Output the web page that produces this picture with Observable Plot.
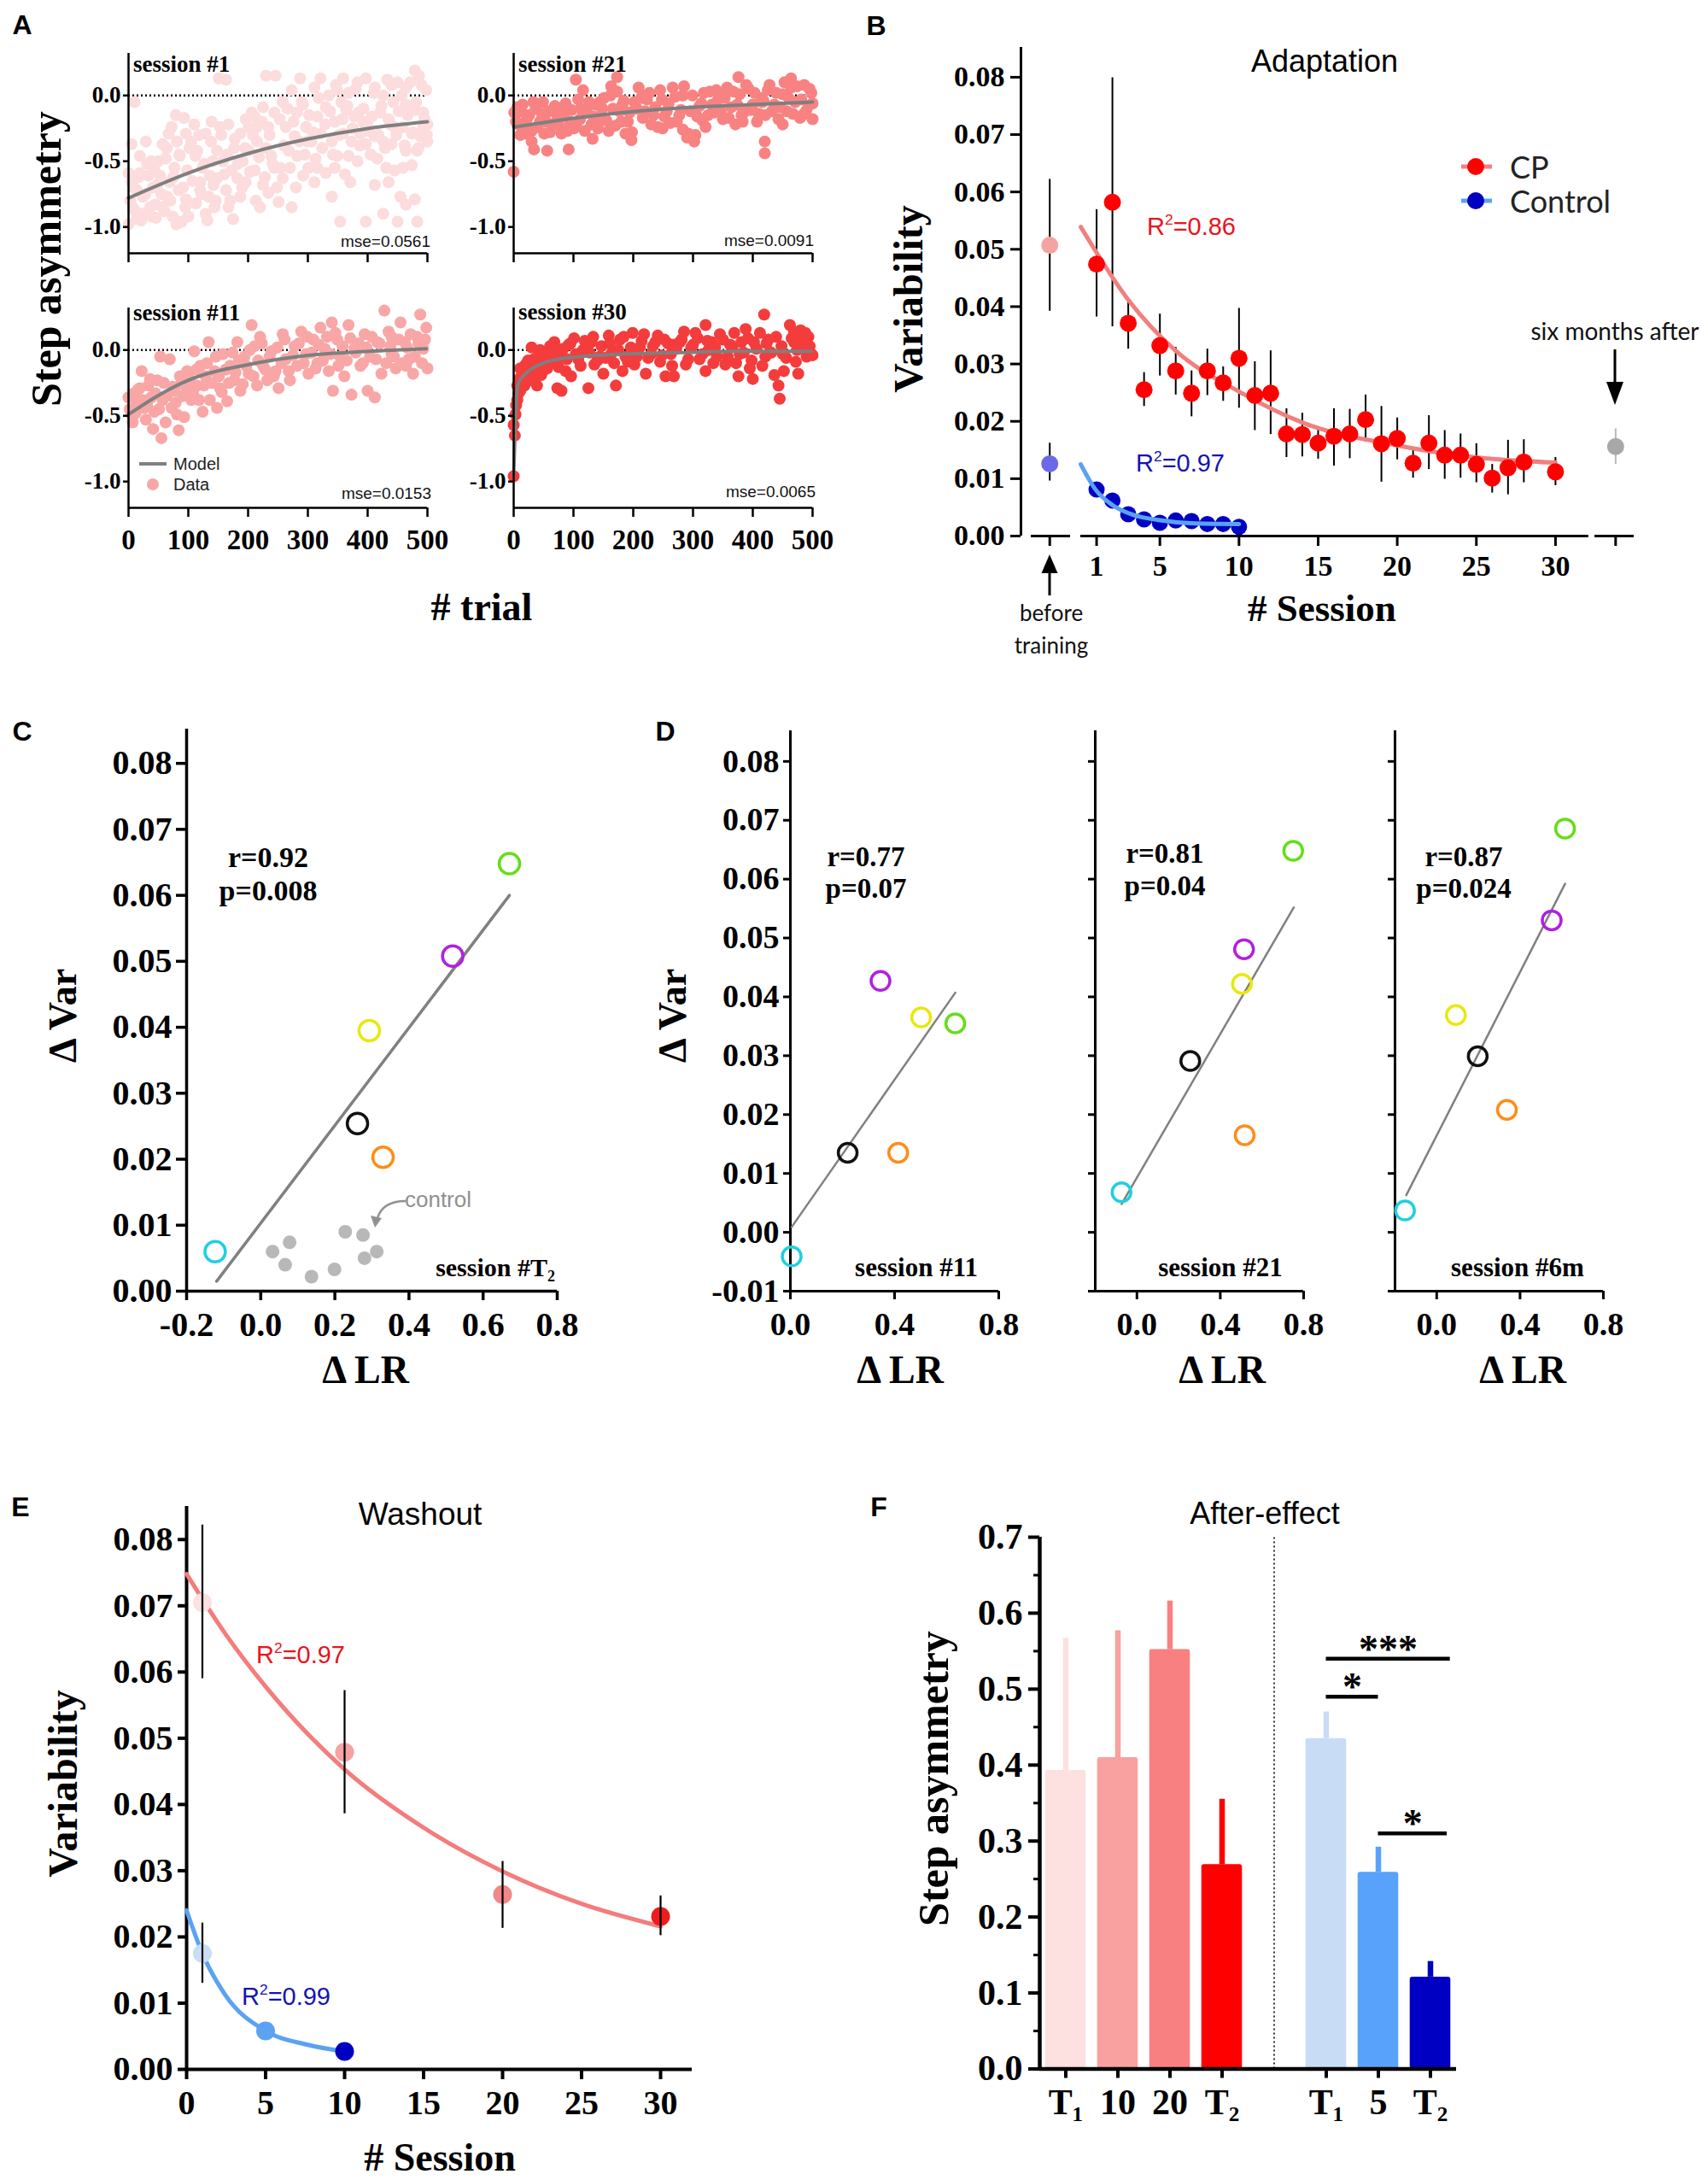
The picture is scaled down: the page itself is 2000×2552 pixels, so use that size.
<!DOCTYPE html>
<html><head><meta charset="utf-8">
<script src="https://cdn.jsdelivr.net/npm/d3@7"></script>
<script src="https://cdn.jsdelivr.net/npm/@observablehq/plot@0.6"></script>
<style>
body{margin:0;background:#fff;}
#root{position:relative;width:2000px;height:2552px;background:#fff;overflow:hidden;}
</style></head><body><div id="root"></div>
<script>
const SERIF = '"Liberation Serif","Times New Roman",serif';
const SANS = '"Liberation Sans",Arial,sans-serif';
const HUM = 'Lato,"Open Sans",sans-serif';

// ---------------- Panel A data ----------------
const trialTicks = [0, 100, 200, 300, 400, 500];
const asymTicks = [0, -0.5, -1.0];
const s1Trial = [0,14,7,24,33,43,19,29,38,48,5,14,26,38,45,0,19,5,10,
57,67,79,93,72,81,96,62,77,86,53,69,84,96,57,74,89,100,65,98,110,105,112,
115,129,139,124,136,148,120,134,144,129,148,151,163,153,141,120,
167,177,187,196,158,172,182,191,201,163,175,187,196,167,206,201,
211,225,234,244,215,230,211,225,234,244,220,251,230,246,215,239,
258,273,282,292,263,278,297,268,282,258,273,292,301,254,287,299,
311,321,335,349,316,330,345,306,321,340,316,330,345,311,340,354,349,
359,368,383,397,364,378,392,359,373,388,402,368,383,397,371,397,385,356,
412,426,440,450,407,421,435,445,412,426,440,416,431,445,412,435,455,426,450,
464,479,486,498,464,479,493,500,459,474,488,500,464,483,459,474,464,479,483,493];
const s1Value = [-0.98,-0.94,-0.85,-0.77,-0.61,-0.57,-0.46,-0.35,-0.50,-0.68,-0.66,-0.72,-0.90,-0.92,-0.83,-0.59,-0.59,-0.37,-0.05,
-0.37,-0.29,-0.15,-0.17,-0.24,-0.35,-0.29,-0.48,-0.55,-0.46,-0.61,-0.66,-0.72,-0.79,-0.85,-0.92,-0.96,-0.92,-0.77,-0.57,-0.22,-0.35,-0.46,
-0.42,-0.29,-0.20,-0.55,-0.61,-0.42,-0.72,-0.77,-0.85,-0.90,-0.63,0.13,0.12,-0.24,-0.50,-0.66,
-0.22,-0.40,-0.29,-0.18,-0.50,-0.57,-0.63,-0.50,-0.42,-0.72,-0.94,-0.77,-0.66,-0.85,-0.13,-0.24,
-0.16,-0.09,-0.24,-0.13,-0.35,-0.40,-0.57,-0.68,-0.74,-0.55,-0.85,-0.81,0.15,0.15,-0.24,-0.46,
-0.05,0.04,-0.13,-0.07,-0.24,-0.31,-0.24,-0.42,-0.46,-0.63,-0.85,-0.61,-0.55,-0.55,0.13,-0.35,
0.06,0.13,0.00,0.04,-0.16,-0.09,-0.20,-0.35,-0.29,-0.35,-0.55,-0.59,-0.55,-0.66,-0.77,-0.96,-0.46,
0.13,0.02,0.10,0.13,-0.11,-0.16,-0.20,-0.29,-0.35,-0.29,-0.27,-0.46,-0.50,-0.37,-0.66,-0.96,-0.13,-0.05,
0.06,0.00,0.08,0.10,-0.16,-0.13,-0.18,-0.24,-0.31,-0.35,-0.37,-0.48,-0.55,-0.57,-0.68,-0.66,-0.77,-0.90,-0.96,
0.06,0.19,0.15,0.04,-0.07,-0.11,-0.13,-0.22,-0.24,-0.29,-0.31,-0.35,-0.42,-0.42,-0.55,-0.53,-0.83,-0.79,-0.96,-0.24];
const s1More = [[3,-0.80],[9,-0.70],[12,-0.88],[17,-0.62],[21,-0.95],[28,-0.75],[31,-0.52],[36,-0.85],[41,-0.70],[46,-0.93],[50,-0.50],[55,-0.75],[60,-0.88],[64,-0.40],[70,-0.80],[75,-0.62],[80,-0.98],[85,-0.45],[91,-0.70],[95,-0.85],[102,-0.40],[107,-0.65],[113,-0.82],[118,-0.30],[122,-0.75],[127,-0.52],[132,-0.95],[138,-0.35],[142,-0.68],[146,-0.80],[155,-0.30],[160,-0.60],[165,-0.45],[170,-0.80],[178,-0.33],[183,-0.52],[190,-0.70],[195,-0.40],[203,-0.58],[208,-0.30],[213,-0.80],[218,-0.47],[223,-0.20],[228,-0.62],[236,-0.30],[241,-0.52],[248,-0.70],[253,-0.18],[260,-0.38],[266,-0.10],[270,-0.55],[276,-0.20],[280,-0.70],[286,-0.35],[290,-0.05],[295,-0.45],[302,-0.15],[308,-0.28],[313,-0.48],[318,-0.02],[324,-0.40],[329,-0.22],[337,-0.12],[342,-0.45],[347,0.08],[352,-0.30],[358,-0.18],[362,-0.60],[366,-0.08],[375,-0.25],[380,0.05],[387,-0.38],[393,-0.10],[400,-0.20],[405,-0.45],[410,0.02],[418,-0.30],[423,-0.08],[429,-0.40],[433,0.12],[438,-0.22],[443,-0.05],[448,-0.30],[452,-0.12],[457,0.00],[462,-0.38],[467,-0.15],[471,0.10],[476,-0.28],[481,-0.05],[485,-0.40],[490,0.08],[495,-0.18],[499,-0.30]];
const s1FitTrial = [0, 100, 201, 301, 402, 500];
const s1FitValue = [-0.78, -0.59, -0.44, -0.33, -0.25, -0.20];

const s21Trial = [1,8,15,22,30,37,44,51,58,65,73,80,87,94,101,108,116,123,130,137,144,151,159,166,173,180,187,194,202,209,216,223,230,237,245,252,259,266,273,280,285,292,299,307,314,321,328,335,342,350,357,364,371,378,385,393,400,407,414,421,428,436,443,450,457,464,471,479,486,493,498,500,
6,20,49,82,111,144,182,216,249,283,316,350,383,416,450,483,
0,104,173,163,376,464,420,420,34,56,92,302,197,132,11,30];
const s21Value = [-0.13,-0.22,-0.07,-0.18,-0.27,-0.10,-0.20,-0.29,-0.12,-0.22,-0.16,-0.29,-0.06,-0.20,-0.25,-0.03,0.04,-0.13,-0.22,-0.07,-0.18,-0.02,-0.27,-0.10,0.03,-0.20,-0.29,-0.13,-0.05,0.06,-0.17,-0.03,-0.22,-0.09,0.04,-0.16,-0.06,0.06,-0.20,-0.11,0.07,-0.29,0.00,-0.16,-0.06,-0.24,0.03,-0.13,-0.03,-0.18,0.06,-0.09,-0.22,0.01,-0.13,0.05,-0.07,-0.20,-0.02,-0.15,0.08,-0.07,-0.18,0.01,-0.12,0.06,-0.05,-0.17,0.08,-0.08,0.02,-0.18,
-0.09,-0.29,-0.05,-0.09,-0.18,-0.05,-0.07,0.00,-0.25,0.00,-0.19,0.00,-0.20,-0.05,-0.22,-0.15,
-0.58,0.12,0.14,0.07,0.14,0.13,-0.35,-0.44,-0.41,-0.42,-0.41,-0.35,-0.34,-0.33,-0.30,-0.35];
const s21More = [[4,-0.20],[12,-0.12],[18,-0.25],[26,-0.15],[33,-0.05],[40,-0.24],[47,-0.14],[54,-0.20],[61,-0.28],[69,-0.08],[76,-0.23],[84,-0.15],[90,-0.27],[97,-0.11],[105,-0.21],[112,-0.10],[119,-0.27],[126,-0.05],[134,-0.16],[141,-0.25],[148,-0.10],[155,-0.19],[162,0.00],[170,-0.23],[177,-0.12],[184,-0.04],[191,-0.20],[198,-0.28],[206,-0.10],[213,-0.02],[220,-0.12],[227,0.02],[234,-0.15],[241,-0.24],[248,-0.03],[256,-0.12],[262,-0.21],[270,-0.01],[277,-0.15],[283,-0.26],[290,-0.32],[296,-0.12],[304,-0.30],[311,-0.08],[318,0.02],[325,-0.15],[332,-0.07],[339,0.04],[346,-0.12],[353,-0.02],[360,-0.17],[367,0.03],[374,-0.07],[381,-0.15],[389,0.08],[396,-0.11],[403,0.02],[410,-0.14],[418,-0.04],[425,0.04],[432,-0.12],[439,0.02],[446,-0.09],[453,0.10],[460,-0.02],[467,-0.14],[474,0.07],[481,-0.03],[489,-0.12],[495,0.05],[500,-0.06]];
const s21FitTrial = [0, 106, 206, 302, 397, 500];
const s21FitValue = [-0.24, -0.17, -0.12, -0.09, -0.07, -0.05];

const s11Trial = [0,5,7,14,19,22,26,29,33,38,41,43,48,53,55,57,62,69,72,77,81,84,89,93,98,105,110,115,120,124,129,134,136,144,148,153,158,165,170,177,182,187,194,201,206,211,215,220,225,232,239,246,251,258,263,270,278,282,289,297,301,309,316,321,328,335,340,342,349,354,361,368,373,378,388,395,400,404,412,416,423,428,435,440,447,455,462,469,476,483,488,493,498,500,440,464];
const s11Value = [-0.36,-0.49,-0.55,-0.40,-0.29,-0.16,-0.44,-0.53,-0.27,-0.36,-0.60,-0.47,-0.23,-0.05,-0.67,-0.38,-0.55,-0.07,-0.44,-0.31,-0.49,-0.61,-0.25,-0.51,-0.16,-0.38,-0.01,-0.27,-0.12,-0.47,-0.20,0.06,-0.38,-0.16,-0.44,-0.29,-0.03,-0.39,-0.12,-0.23,0.06,-0.31,-0.05,-0.18,0.19,0.03,-0.27,0.10,-0.12,-0.23,-0.01,-0.16,-0.29,0.12,-0.07,-0.23,0.03,-0.12,0.14,-0.03,-0.18,0.08,-0.10,0.17,0.01,-0.16,0.21,-0.31,0.08,-0.05,-0.20,0.19,-0.34,0.01,-0.12,0.12,-0.31,-0.05,-0.36,0.06,-0.18,0.30,0.14,-0.03,-0.14,0.21,0.06,-0.07,-0.18,0.10,0.27,0.01,0.17,-0.14,0.10,-0.12];
const s11More = [[2,-0.45],[9,-0.33],[12,-0.48],[16,-0.30],[24,-0.38],[31,-0.42],[36,-0.22],[45,-0.33],[51,-0.45],[59,-0.25],[64,-0.35],[74,-0.28],[79,-0.40],[86,-0.20],[91,-0.35],[96,-0.28],[102,-0.22],[108,-0.32],[113,-0.15],[118,-0.38],[126,-0.27],[131,-0.10],[139,-0.25],[146,-0.05],[151,-0.20],[156,-0.32],[162,-0.15],[168,-0.25],[174,-0.02],[179,-0.17],[185,-0.08],[191,-0.26],[197,-0.12],[203,0.00],[209,-0.20],[217,-0.08],[223,0.05],[229,-0.15],[236,-0.05],[243,-0.20],[249,0.02],[256,-0.10],[261,0.08],[268,-0.16],[275,-0.04],[285,0.05],[293,-0.10],[299,0.10],[306,-0.02],[313,-0.14],[318,0.04],[325,-0.08],[332,0.10],[338,-0.03],[346,0.13],[351,-0.12],[358,0.03],[365,-0.08],[371,0.09],[380,-0.02],[385,0.05],[392,-0.10],[398,0.02],[407,0.10],[414,-0.07],[420,0.05],[431,-0.10],[438,0.03],[444,-0.05],[452,0.08],[458,-0.10],[466,0.02],[472,0.12],[479,-0.05],[485,0.05],[491,-0.10],[496,0.08]];
const s11FitTrial = [0, 48, 100, 201, 301, 402, 498];
const s11FitValue = [-0.49, -0.35, -0.23, -0.11, -0.04, -0.01, 0.01];

const s30Trial = [0,0,3,6,6,11,13,11,18,20,25,30,34,39,44,49,53,58,73,80,68,77,87,92,101,96,108,116,125,130,135,144,150,159,163,171,178,182,187,199,202,211,218,221,230,237,245,252,254,263,268,278,285,288,297,304,311,321,321,331,340,345,354,362,369,376,378,388,395,400,402,412,421,426,436,443,445,452,419,462,469,474,476,483,490,495,498,469,450,488,326,268];
const s30Value = [-0.96,-0.57,-0.49,-0.38,-0.27,-0.31,-0.20,-0.14,-0.27,-0.11,-0.20,0.02,-0.07,-0.27,0.00,-0.16,-0.03,-0.11,-0.29,-0.31,0.06,-0.05,-0.16,0.04,0.09,-0.20,-0.07,0.00,-0.29,0.06,-0.11,-0.05,-0.18,0.11,-0.03,-0.27,0.08,-0.16,-0.05,0.13,-0.11,0.02,0.12,-0.18,-0.03,0.06,-0.09,0.08,-0.20,-0.03,-0.20,0.06,0.14,-0.11,0.02,0.13,-0.07,0.19,-0.16,0.06,-0.05,0.12,-0.11,0.04,0.13,-0.20,-0.03,0.16,-0.14,-0.22,0.06,0.13,-0.05,0.08,-0.19,-0.27,-0.37,-0.16,0.27,0.19,0.14,0.00,-0.18,0.08,-0.05,0.03,-0.03,0.06,-0.03,0.13,0.00,0.04];
const s30More = [[2,-0.65],[4,-0.42],[8,-0.33],[9,-0.22],[14,-0.27],[16,-0.15],[22,-0.24],[24,-0.08],[28,-0.17],[32,-0.22],[36,-0.12],[41,-0.05],[46,-0.19],[51,-0.08],[56,-0.14],[61,0.03],[65,-0.09],[70,-0.02],[75,-0.13],[83,0.01],[89,-0.07],[95,0.05],[104,-0.03],[112,-0.12],[119,0.07],[127,-0.02],[133,0.10],[140,-0.08],[147,0.03],[154,-0.06],[161,0.05],[168,-0.10],[175,0.00],[184,0.10],[191,-0.09],[196,0.02],[206,-0.05],[214,0.07],[225,-0.06],[233,0.03],[241,0.11],[248,-0.04],[258,0.05],[265,-0.12],[272,0.01],[281,0.08],[292,-0.07],[300,0.04],[308,0.09],[316,-0.03],[324,0.07],[334,-0.10],[337,0.02],[350,0.08],[358,-0.05],[366,0.03],[372,-0.10],[381,0.06],[385,-0.02],[392,0.09],[398,-0.08],[406,0.01],[416,-0.12],[423,0.05],[431,-0.02],[439,0.10],[448,0.03],[456,-0.06],[465,0.09],[472,-0.09],[480,0.15],[486,0.02],[493,0.10],[500,-0.04]];
const s30FitTrial = [0, 3, 8, 20, 39, 63, 111, 182, 278, 373, 498];
const s30FitValue = [-0.96, -0.53, -0.25, -0.18, -0.12, -0.08, -0.05, -0.03, -0.02, -0.01, -0.01];

// ---------------- Panel B data ----------------
const sessionTicks = [1, 5, 10, 15, 20, 25, 30];
const varTicks = [0, 0.01, 0.02, 0.03, 0.04, 0.05, 0.06, 0.07, 0.08];
const cpSession = [1,2,3,4,5,6,7,8,9,10,11,12,13,14,15,16,17,18,19,20,21,22,23,24,25,26,27,28,30];
const cpVar = [0.0474,0.0582,0.0371,0.0255,0.0332,0.0288,0.0249,0.0288,0.0267,0.031,0.0245,0.0249,0.0178,0.0177,0.0162,0.0174,0.0178,0.0203,0.0161,0.017,0.0127,0.0162,0.0141,0.0141,0.0125,0.0101,0.0119,0.0129,0.0112];
const cpLo = [0.0382,0.0365,0.0326,0.0226,0.0279,0.0246,0.0208,0.0245,0.0235,0.0223,0.0184,0.0177,0.0137,0.0138,0.0134,0.0122,0.0135,0.0164,0.0094,0.0133,0.0101,0.0116,0.0099,0.0101,0.0093,0.0075,0.0072,0.0093,0.0088];
const cpHi = [0.0569,0.0799,0.0413,0.0285,0.0387,0.0329,0.0288,0.0326,0.0295,0.0397,0.0304,0.0323,0.0222,0.0214,0.019,0.0222,0.0221,0.0246,0.0226,0.0206,0.0152,0.021,0.0184,0.0178,0.0161,0.0125,0.0167,0.0168,0.0137];
const ctrlSession = [1,2,3,4,5,6,7,8,9,10];
const ctrlVar = [0.0081,0.0062,0.0038,0.0029,0.0023,0.0027,0.0026,0.0021,0.0021,0.0016];
const cpFitSession = [0, 3, 6, 10, 14, 20, 25, 30];
const cpFitVar = [0.0539, 0.0412, 0.0323, 0.0252, 0.0198, 0.0158, 0.0137, 0.0128];
const ctrlFitSession = [0, 0.93, 2, 3.3, 4.9, 7.25, 10];
const ctrlFitVar = [0.0125, 0.0081, 0.0054, 0.0037, 0.0028, 0.0022, 0.0021];
const beforeSession = -1.96, sixMonthSession = 33.8;
const extraLabel = ["before CP", "before Control", "six months CP"];
const extraSession = [beforeSession, beforeSession, sixMonthSession];
const extraVar = [0.0507, 0.0126, 0.0156];
const extraLo = [0.0392, 0.0096, 0.0125];
const extraHi = [0.0622, 0.0162, 0.0187];
const extraColor = ["#f4a3a3", "#6a6ae8", "#a8a8a8"];
const extraErrColor = ["#000", "#000", "#b8b8b8"];
const bAxisSegments = [{x1: -3.13, x2: -0.65}, {x1: 0, x2: 32.1}, {x1: 32.49, x2: 34.97}];

// ---------------- Panels C / D data ----------------
const subjColors = ["#20cfe0", "#111111", "#ff8c1a", "#e8e810", "#b020e0", "#66dd1a"]; // cyan, black, orange, yellow, purple, green
const lrTicksC = [-0.2, 0, 0.2, 0.4, 0.6, 0.8];
const lrTicksD = [0, 0.4, 0.8];
const varTicksD = [-0.01, 0, 0.01, 0.02, 0.03, 0.04, 0.05, 0.06, 0.07, 0.08];
const cLR = [-0.123, 0.261, 0.330, 0.293, 0.518, 0.671];
const cVar = [0.006, 0.0254, 0.0203, 0.0395, 0.0508, 0.0648];
const cLineLR = [-0.119, 0.671], cLineVar = [0.0015, 0.060];
const ctrlLR = [0.032, 0.078, 0.066, 0.137, 0.199, 0.228, 0.276, 0.28, 0.313];
const ctrlDVar = [0.006, 0.0074, 0.004, 0.0022, 0.0033, 0.009, 0.0085, 0.005, 0.006];
const d11LR = [0.005, 0.22, 0.414, 0.502, 0.346, 0.633];
const d11Var = [-0.0041, 0.0135, 0.0135, 0.0365, 0.0427, 0.0355];
const d11LineLR = [0.005, 0.633], d11LineVar = [0.0009, 0.0407];
const d21LR = [-0.074, 0.256, 0.517, 0.504, 0.514, 0.75];
const d21Var = [0.0068, 0.0291, 0.0165, 0.0422, 0.0481, 0.0648];
const d21LineLR = [-0.074, 0.753], d21LineVar = [0.0048, 0.0552];
const d6LR = [-0.152, 0.197, 0.337, 0.092, 0.552, 0.616];
const d6Var = [0.0037, 0.0299, 0.0208, 0.0369, 0.053, 0.0686];
const d6LineLR = [-0.146, 0.616], d6LineVar = [0.0063, 0.0592];

// ---------------- Panel E data ----------------
const eTicksX = [0, 5, 10, 15, 20, 25, 30];
const eCpSession = [1, 10, 20, 30];
const eCpVar = [0.0705, 0.0479, 0.0264, 0.0231];
const eCpLo = [0.059, 0.0386, 0.0213, 0.0202];
const eCpHi = [0.0822, 0.0572, 0.0314, 0.0262];
const eCpColor = ["#fde0e0", "#f5a3a3", "#f28787", "#ee1c1c"];
const eCtrlSession = [1, 5, 10];
const eCtrlVar = [0.0175, 0.0058, 0.0027];
const eCtrlLo = [0.013, 0.0058, 0.0027];
const eCtrlHi = [0.0221, 0.0058, 0.0027];
const eCtrlColor = ["#c9ddf5", "#5aa2f2", "#0000c0"];
const eCpFitSession = [0, 2.5, 5, 10, 15, 20, 25, 30];
const eCpFitVar = [0.0748, 0.0656, 0.0578, 0.0453, 0.0365, 0.0299, 0.0250, 0.0216];
const eCtrlFitSession = [0, 1, 2.4, 5, 7.5, 10];
const eCtrlFitVar = [0.024, 0.0175, 0.0114, 0.0058, 0.0038, 0.0027];

// ---------------- Panel F data ----------------
const fSlots = ["cpT1", "cp10", "cp20", "cpT2", "gap", "cT1", "c5", "cT2"];
const fIds = ["cpT1", "cp10", "cp20", "cpT2", "cT1", "c5", "cT2"];
const fLabels = ["T\u2081", "10", "20", "T\u2082", "T\u2081", "5", "T\u2082"];
const fValues = [0.393, 0.41, 0.552, 0.269, 0.435, 0.259, 0.121];
const fTops = [0.567, 0.577, 0.616, 0.355, 0.47, 0.292, 0.1415];
const fColors = ["#fde0e0", "#f9a0a0", "#f98080", "#ff0000", "#c8dcf6", "#58a2fb", "#0000c2"];
const fTicks = [0, 0.1, 0.2, 0.3, 0.4, 0.5, 0.6, 0.7];
const fMinorTicks = [0.05, 0.15, 0.25, 0.35, 0.45, 0.55, 0.65];
const sigFrom = ["cT1", "cT1", "c5"];
const sigTo = ["cT2", "c5", "cT2"];
const sigToEdge = [0.38, 0, 0.32];
const sigLevel = [0.54, 0.49, 0.31];
const sigLabel = ["***", "*", "*"];

// ---------------- helpers ----------------
const root = document.getElementById("root");
function place(node, left, top) {
  node.style.position = "absolute";
  node.style.left = left + "px";
  node.style.top = top + "px";
  root.appendChild(node);
}
function chart({x0, x1, y0, y1, ml = 110, mr = 20, mt = 15, mb = 70, fs = 34, x, y, marks}) {
  const W = Math.round(ml + (x1 - x0) + mr), H = Math.round(mt + (y1 - y0) + mb);
  const svg = Plot.plot({
    width: W, height: H,
    marginLeft: ml, marginRight: W - ml - (x1 - x0),
    marginTop: mt, marginBottom: H - mt - (y1 - y0),
    x: {...x, label: null}, y: {...y, label: null},
    color: {type: "identity"},
    style: {background: "transparent", overflow: "visible", fontFamily: SERIF, fontWeight: "bold", fontSize: fs + "px", color: "#000"},
    marks
  });
  place(svg, x0 - ml, y0 - mt);
  return svg;
}
function txt(html, x, y, o = {}) {
  const d = document.createElement("div");
  d.innerHTML = html;
  const tx = o.anchor === "start" ? "0" : o.anchor === "end" ? "-100%" : "-50%";
  d.style.cssText = `position:absolute;left:${x}px;top:${y}px;white-space:nowrap;line-height:1;` +
    `font-family:${o.family || SERIF};font-size:${o.size || 30}px;font-weight:${o.weight || "bold"};color:${o.color || "#000"};` +
    `transform:translate(${tx},-50%)${o.rotate ? " rotate(-90deg)" : ""};`;
  root.appendChild(d);
}
const zip2 = (xs, ys) => xs.map((x, i) => ({x, y: ys[i]}));
const pairs = (ps) => ps.map(([x, y]) => ({x, y}));

// ---------------- Panel A ----------------
function sessionPanel(trials, values, more, fitT, fitV, color, x0, y0, xLabels) {
  const pts = zip2(trials, values).concat(pairs(more));
  chart({
    x0, x1: x0 + 350, y0, y1: y0 + 234, ml: 70, mr: 20, mt: 15, mb: 60, fs: 33,
    x: {domain: [0, 500]}, y: {domain: [-1.2, 0.32]},
    marks: [
      Plot.ruleY([0], {stroke: "#000", strokeWidth: 2.4, strokeDasharray: "2 3"}),
      Plot.dot(pts, {x: "x", y: "y", r: 7, fill: color}),
      Plot.line(zip2(fitT, fitV), {x: "x", y: "y", stroke: "#7f7f7f", strokeWidth: 4, curve: "monotone-x"}),
      Plot.ruleX([0], {y1: -1.2, y2: 0.32, strokeWidth: 2.5}),
      Plot.ruleY([-1.2], {strokeWidth: 2.5}),
      Plot.axisX({ticks: trialTicks, tickSize: 11, tickPadding: 14, strokeWidth: 2.5, label: null,
        tickFormat: xLabels ? (d) => String(d) : () => ""}),
      Plot.axisY({ticks: asymTicks, tickSize: 6, tickPadding: 3, strokeWidth: 2.5, label: null, fontSize: 27,
        tickFormat: (d) => d.toFixed(1)})
    ]
  });
}
sessionPanel(s1Trial, s1Value, s1More, s1FitTrial, s1FitValue, "#fcdcdc", 150, 62, false);
sessionPanel(s21Trial, s21Value, s21More, s21FitTrial, s21FitValue, "#f88282", 601, 62, false);
sessionPanel(s11Trial, s11Value, s11More, s11FitTrial, s11FitValue, "#f9a6a6", 150, 360, true);
sessionPanel(s30Trial, s30Value, s30More, s30FitTrial, s30FitValue, "#f43c3c", 601, 360, true);

// ---------------- Panel B ----------------
{
  const cpRows = cpSession.map((s, i) => ({s, v: cpVar[i], lo: cpLo[i], hi: cpHi[i]}));
  const ctrlRows = ctrlSession.map((s, i) => ({s, v: ctrlVar[i]}));
  const extraRows = extraLabel.map((k, i) => ({k, s: extraSession[i], v: extraVar[i], lo: extraLo[i], hi: extraHi[i], c: extraColor[i], e: extraErrColor[i]}));
  chart({
    x0: 1195, x1: 1913, y0: 55, y1: 627, ml: 115, mr: 20, mt: 10, mb: 60, fs: 34,
    x: {domain: [-3.78, 34.97]}, y: {domain: [0, 0.0852]},
    marks: [
      Plot.ruleX([-3.78], {y1: 0, y2: 0.0852, strokeWidth: 3}),
      Plot.ruleY(bAxisSegments, {x1: "x1", x2: "x2", y: 0, strokeWidth: 3}),
      Plot.axisY({ticks: varTicks, tickSize: 12, tickPadding: 7, strokeWidth: 3, label: null, tickFormat: (d) => d.toFixed(2)}),
      Plot.axisX({ticks: sessionTicks, tickSize: 12, tickPadding: 10, strokeWidth: 3, label: null, tickFormat: (d) => String(d)}),
      Plot.axisX({ticks: [beforeSession, sixMonthSession], tickSize: 12, strokeWidth: 3, label: null, tickFormat: () => ""}),
      Plot.ruleX(cpRows, {x: "s", y1: "lo", y2: "hi", stroke: "#000", strokeWidth: 2}),
      Plot.ruleX(extraRows, {x: "s", y1: "lo", y2: "hi", stroke: "e", strokeWidth: 2}),
      Plot.line(zip2(cpFitSession, cpFitVar), {x: "x", y: "y", stroke: "#f08080", strokeWidth: 5, curve: "monotone-x"}),
      Plot.dot(cpRows, {x: "s", y: "v", r: 10, fill: "#ff0000"}),
      Plot.dot(ctrlRows, {x: "s", y: "v", r: 9.5, fill: "#0000c0"}),
      Plot.line(zip2(ctrlFitSession, ctrlFitVar), {x: "x", y: "y", stroke: "#5aa2f2", strokeWidth: 5, curve: "monotone-x"}),
      Plot.dot(extraRows, {x: "s", y: "v", r: 10, fill: "c"})
    ]
  });
}

// ---------------- Panel C ----------------
{
  const rows = cLR.map((x, i) => ({x, y: cVar[i], c: subjColors[i]}));
  chart({
    x0: 218, x1: 652, y0: 853, y1: 1511, ml: 125, mr: 40, mt: 10, mb: 70, fs: 40,
    x: {domain: [-0.2, 0.8]}, y: {domain: [0, 0.0852]},
    marks: [
      Plot.ruleX([-0.2], {y1: 0, y2: 0.0852, strokeWidth: 3.5}),
      Plot.ruleY([0], {strokeWidth: 3.5}),
      Plot.axisX({ticks: lrTicksC, tickSize: 11, tickPadding: 13, strokeWidth: 3.5, label: null, tickFormat: (d) => d.toFixed(1)}),
      Plot.axisY({ticks: varTicks, tickSize: 12, tickPadding: 5, strokeWidth: 3.5, label: null, tickFormat: (d) => d.toFixed(2)}),
      Plot.dot(zip2(ctrlLR, ctrlDVar), {x: "x", y: "y", r: 8, fill: "#b8b8b8"}),
      Plot.line(zip2(cLineLR, cLineVar), {x: "x", y: "y", stroke: "#808080", strokeWidth: 3.5}),
      Plot.dot(rows, {x: "x", y: "y", r: 12, stroke: "c", strokeWidth: 3.5, fill: "none"})
    ]
  });
}

// ---------------- Panel D ----------------
function dPanel(x0, domain, lrs, vars, lineLR, lineVar, showY) {
  const rows = lrs.map((x, i) => ({x, y: vars[i], c: subjColors[i]}));
  chart({
    x0, x1: x0 + 244, y0: 855, y1: 1511, ml: 125, mr: 40, mt: 10, mb: 70, fs: 38,
    x: {domain}, y: {domain: [-0.01, 0.0852]},
    marks: [
      Plot.ruleX([domain[0]], {y1: -0.01, y2: 0.0852, strokeWidth: 3}),
      Plot.ruleY([-0.01], {strokeWidth: 3}),
      Plot.axisX({ticks: lrTicksD, tickSize: 10, tickPadding: 15, strokeWidth: 3, label: null, tickFormat: (d) => d.toFixed(1)}),
      Plot.axisY({ticks: varTicksD, tickSize: 8, tickPadding: 5, strokeWidth: 3, label: null,
        tickFormat: showY ? (d) => d.toFixed(2) : () => ""}),
      Plot.line(zip2(lineLR, lineVar), {x: "x", y: "y", stroke: "#808080", strokeWidth: 2.5}),
      Plot.dot(rows, {x: "x", y: "y", r: 11, stroke: "c", strokeWidth: 3.5, fill: "none"})
    ]
  });
}
dPanel(925, [0, 0.8], d11LR, d11Var, d11LineLR, d11LineVar, true);
dPanel(1282, [-0.2, 0.8], d21LR, d21Var, d21LineLR, d21LineVar, false);
dPanel(1633, [-0.2, 0.8], d6LR, d6Var, d6LineLR, d6LineVar, false);

// ---------------- Panel E ----------------
{
  const cpRows = eCpSession.map((s, i) => ({s, v: eCpVar[i], lo: eCpLo[i], hi: eCpHi[i], c: eCpColor[i]}));
  const ctRows = eCtrlSession.map((s, i) => ({s, v: eCtrlVar[i], lo: eCtrlLo[i], hi: eCtrlHi[i], c: eCtrlColor[i]}));
  chart({
    x0: 218, x1: 810, y0: 1763, y1: 2422, ml: 125, mr: 20, mt: 10, mb: 75, fs: 40,
    x: {domain: [0, 32]}, y: {domain: [0, 0.085]},
    marks: [
      Plot.ruleX([0], {y1: 0, y2: 0.085, strokeWidth: 4}),
      Plot.ruleY([0], {strokeWidth: 4}),
      Plot.axisX({ticks: eTicksX, tickSize: 12, tickPadding: 12, strokeWidth: 4, label: null, tickFormat: (d) => String(d)}),
      Plot.axisY({ticks: varTicks, tickSize: 10, tickPadding: 6, strokeWidth: 4, label: null, tickFormat: (d) => d.toFixed(2)}),
      Plot.line(zip2(eCpFitSession, eCpFitVar), {x: "x", y: "y", stroke: "#f47c7c", strokeWidth: 5, curve: "monotone-x"}),
      Plot.line(zip2(eCtrlFitSession, eCtrlFitVar), {x: "x", y: "y", stroke: "#5aa2f2", strokeWidth: 5, curve: "monotone-x"}),
      Plot.dot(cpRows, {x: "s", y: "v", r: 11, fill: "c"}),
      Plot.dot(ctRows, {x: "s", y: "v", r: 11, fill: "c"}),
      Plot.ruleX(cpRows, {x: "s", y1: "lo", y2: "hi", stroke: "#000", strokeWidth: 2.2}),
      Plot.ruleX(ctRows.filter((d) => d.hi > d.lo), {x: "s", y1: "lo", y2: "hi", stroke: "#000", strokeWidth: 2.2})
    ]
  });
}

// ---------------- Panel F ----------------
{
  const rows = fIds.map((id, i) => ({id, pos: fSlots.indexOf(id), label: fLabels[i], v: fValues[i], top: fTops[i], c: fColors[i]}));
  const labelAt = new Map(rows.map((d) => [d.pos, d.label]));
  const sig = sigFrom.map((f, i) => {
    const x1 = fSlots.indexOf(f), x2 = fSlots.indexOf(sigTo[i]) + sigToEdge[i];
    return {x1, x2, mid: (x1 + x2) / 2, level: sigLevel[i], label: sigLabel[i]};
  });
  chart({
    x0: 1217, x1: 1705, y0: 1798.5, y1: 2421, ml: 120, mr: 20, mt: 10, mb: 75, fs: 42,
    x: {domain: [-0.5, 7.5]}, y: {domain: [0, 0.7]},
    marks: [
      Plot.ruleX([fSlots.indexOf("gap")], {y1: 0, y2: 0.7, strokeWidth: 1.6, strokeDasharray: "2 3"}),
      Plot.rectY(rows, {x1: (d) => d.pos - 0.39, x2: (d) => d.pos + 0.39, y1: 0, y2: "v", fill: "c", rx: 3}),
      Plot.ruleX(rows, {x: "pos", y1: "v", y2: "top", stroke: "c", strokeWidth: 6.5}),
      Plot.ruleX([-0.5], {y1: 0, y2: 0.7, strokeWidth: 4.5}),
      Plot.ruleY([0], {strokeWidth: 4.5}),
      Plot.axisY({ticks: fTicks, tickSize: 13, tickPadding: 7, strokeWidth: 4, label: null, tickFormat: (d) => d.toFixed(1)}),
      Plot.axisY({ticks: fMinorTicks, tickSize: 7, strokeWidth: 3, label: null, tickFormat: () => ""}),
      Plot.axisX({ticks: rows.map((d) => d.pos), tickSize: 11, tickPadding: 12, strokeWidth: 4, label: null, tickFormat: (p) => labelAt.get(p)}),
      Plot.ruleY(sig, {x1: "x1", x2: "x2", y: "level", strokeWidth: 4.5}),
      Plot.text(sig, {x: "mid", y: "level", text: "label", lineAnchor: "bottom", dy: 4, fontSize: 46})
    ]
  });
}

// ---------------- decorations (legend samples, arrows) ----------------
{
  const ns = "http://www.w3.org/2000/svg";
  const deco = document.createElementNS(ns, "svg");
  deco.setAttribute("width", 2000); deco.setAttribute("height", 2552);
  deco.style.cssText = "position:absolute;left:0;top:0;overflow:visible;pointer-events:none";
  deco.innerHTML = `
    <line x1="163" y1="543" x2="195" y2="543" stroke="#7f7f7f" stroke-width="4"/>
    <circle cx="179" cy="567" r="7" fill="#f9a6a6"/>
    <line x1="1711" y1="195" x2="1747" y2="195" stroke="#f08080" stroke-width="5"/>
    <circle cx="1728" cy="195" r="10" fill="#ff0000"/>
    <line x1="1711" y1="235" x2="1747" y2="235" stroke="#5aa2f2" stroke-width="5"/>
    <circle cx="1728" cy="235" r="10" fill="#0000c0"/>
    <line x1="1229" y1="697" x2="1229" y2="665" stroke="#000" stroke-width="3"/>
    <path d="M1229 649 L1219.5 671 L1238.5 671 Z" fill="#000"/>
    <line x1="1891" y1="409" x2="1891" y2="452" stroke="#000" stroke-width="3"/>
    <path d="M1891 474 L1881 447 L1901 447 Z" fill="#000"/>
    <path d="M475 1406 Q 448 1406 442 1426" fill="none" stroke="#909090" stroke-width="2.5"/>
    <path d="M439 1437 L434 1423 L447 1426 Z" fill="#909090"/>`;
  root.appendChild(deco);
}

// ---------------- text ----------------
const P = {family: SANS, size: 32, weight: "bold"};
txt("A", 26, 29, P); txt("B", 1026, 30, P); txt("C", 26, 856, P);
txt("D", 779, 856, P); txt("E", 24, 1764, P); txt("F", 1029, 1764, P);

// A
txt("Step asymmetry", 54, 303, {size: 50, rotate: true});
txt("# trial", 564, 711, {size: 46});
txt("session #1", 156, 75, {size: 27, anchor: "start"});
txt("session #21", 607, 75, {size: 27, anchor: "start"});
txt("session #11", 156, 366, {size: 27, anchor: "start"});
txt("session #30", 607, 365, {size: 27, anchor: "start"});
const M = {family: SANS, size: 19, weight: "normal", anchor: "end", color: "#111"};
txt("mse=0.0561", 504, 282, M); txt("mse=0.0091", 953, 281, M);
txt("mse=0.0153", 505, 577, M); txt("mse=0.0065", 955, 575, M);
txt("Model", 203, 543, {family: SANS, size: 20, weight: "normal", anchor: "start", color: "#222"});
txt("Data", 203, 567, {family: SANS, size: 20, weight: "normal", anchor: "start", color: "#222"});

// B
txt("Variability", 1064, 350, {size: 48, rotate: true});
txt("# Session", 1548, 712, {size: 45});
txt("Adaptation", 1551, 72, {family: SANS, size: 36, weight: "normal"});
const SUP = '<sup style="font-size:0.6em;vertical-align:0;position:relative;top:-0.7em">2</sup>';
txt("R" + SUP + "=0.86", 1343, 265, {family: SANS, size: 29, weight: "normal", anchor: "start", color: "#e8141c"});
txt("R" + SUP + "=0.97", 1330, 542, {family: SANS, size: 29, weight: "normal", anchor: "start", color: "#1414b4"});
txt("CP", 1768, 195, {family: HUM, size: 36, weight: "normal", anchor: "start", color: "#222"});
txt("Control", 1768, 235, {family: HUM, size: 36, weight: "normal", anchor: "start", color: "#222"});
txt("before", 1231, 717, {family: HUM, size: 26, weight: "normal", color: "#111"});
txt("training", 1231, 755, {family: HUM, size: 26, weight: "normal", color: "#111"});
txt("six months after", 1891, 387, {family: HUM, size: 28, weight: "normal", color: "#111"});

// C
txt("\u0394 Var", 74, 1189, {size: 46, rotate: true});
txt("\u0394 LR", 428, 1604, {size: 46});
txt("r=0.92", 314, 1004, {size: 34}); txt("p=0.008", 314, 1043, {size: 34});
txt("control", 513, 1404, {family: SANS, size: 26, weight: "normal", color: "#909090"});
txt('session #T<sub style="font-size:0.6em;vertical-align:0;position:relative;top:0.35em">2</sub>', 650, 1484, {size: 30, anchor: "end"});

// D
txt("\u0394 Var", 788, 1189, {size: 46, rotate: true});
txt("\u0394 LR", 1054, 1604, {size: 46}); txt("\u0394 LR", 1431, 1604, {size: 46}); txt("\u0394 LR", 1783, 1604, {size: 46});
txt("r=0.77", 1014, 1003, {size: 33}); txt("p=0.07", 1014, 1040, {size: 33});
txt("r=0.81", 1364, 999, {size: 33}); txt("p=0.04", 1364, 1037, {size: 33});
txt("r=0.87", 1714, 1003, {size: 33}); txt("p=0.024", 1714, 1040, {size: 33});
txt("session #11", 1073, 1483, {size: 31}); txt("session #21", 1429, 1483, {size: 31}); txt("session #6m", 1777, 1483, {size: 31});

// E
txt("Variability", 74, 2088, {size: 48, rotate: true});
txt("# Session", 515, 2526, {size: 46});
txt("Washout", 492, 1772, {family: SANS, size: 37, weight: "normal"});
txt("R" + SUP + "=0.97", 300, 1937, {family: SANS, size: 29, weight: "normal", anchor: "start", color: "#e8141c"});
txt("R" + SUP + "=0.99", 283, 2337, {family: SANS, size: 29, weight: "normal", anchor: "start", color: "#1414b4"});

// F
txt("Step asymmetry", 1093, 2082, {size: 50, rotate: true});
txt("After-effect", 1481, 1772, {family: SANS, size: 36, weight: "normal"});
</script></body></html>
